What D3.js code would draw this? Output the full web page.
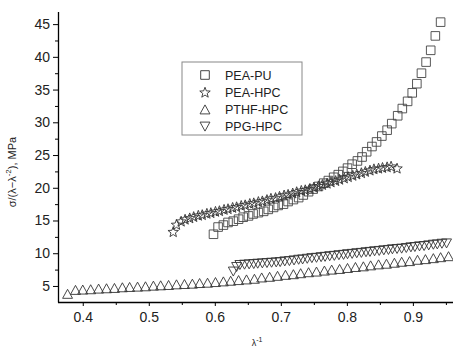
<!DOCTYPE html>
<html>
<head>
<meta charset="utf-8">
<title>chart</title>
<script src="https://cdn.jsdelivr.net/npm/d3@7"></script>
<style>
  body { margin: 0; background: #fff; }
  text { font-family: "Liberation Sans", Arial, sans-serif; }
</style>
</head>
<body>
<script>
// series data (x = lambda^-1, y = reduced stress, MPa)
var seriesNames = ["PEA-PU", "PEA-HPC", "PTHF-HPC", "PPG-HPC"];

var peaPuX = [0.598,0.605,0.613,0.620,0.628,0.636,0.643,0.651,0.658,0.666,0.674,0.681,0.689,0.696,0.704,0.711,0.719,0.727,0.734,0.742,0.749,0.757,0.765,0.772,0.780,0.787,0.794,0.801,0.808,0.816,0.823,0.830,0.838,0.845,0.853,0.861,0.868,0.877,0.884,0.892,0.899,0.906,0.913,0.920,0.927,0.934,0.942];
var peaPuY = [12.9,14.0,14.3,14.7,14.9,15.2,15.5,15.7,16.0,16.2,16.4,16.7,17.0,17.3,17.5,17.9,18.2,18.5,18.9,19.4,19.8,20.2,20.7,21.1,21.6,22.0,22.5,23.0,23.6,24.1,24.7,25.5,26.3,27.0,27.9,28.8,29.8,31.0,32.1,33.2,34.5,35.9,37.5,39.2,41.0,43.2,45.3];

var peaHpcX = [0.537,0.542,0.549,0.555,0.562,0.568,0.575,0.581,0.588,0.594,0.601,0.607,0.614,0.620,0.627,0.633,0.640,0.646,0.653,0.659,0.666,0.672,0.679,0.685,0.692,0.698,0.705,0.711,0.718,0.724,0.731,0.737,0.744,0.750,0.757,0.763,0.770,0.776,0.783,0.789,0.796,0.802,0.809,0.815,0.822,0.828,0.835,0.841,0.848,0.854,0.861,0.867,0.876];
var peaHpcY = [13.3,14.4,14.9,15.2,15.4,15.6,15.8,15.9,16.1,16.2,16.4,16.5,16.7,16.8,17.0,17.1,17.3,17.4,17.6,17.7,17.9,18.0,18.2,18.4,18.5,18.7,18.9,19.0,19.2,19.4,19.6,19.7,19.9,20.1,20.3,20.5,20.7,20.9,21.1,21.3,21.5,21.7,21.9,22.1,22.3,22.5,22.7,22.9,23.0,23.1,23.2,23.3,23.0];

var pthfX = [0.377,0.389,0.400,0.412,0.424,0.436,0.448,0.460,0.471,0.483,0.495,0.507,0.518,0.530,0.542,0.554,0.566,0.577,0.589,0.601,0.613,0.624,0.636,0.648,0.660,0.671,0.683,0.695,0.707,0.719,0.730,0.742,0.754,0.766,0.777,0.789,0.801,0.813,0.825,0.836,0.848,0.860,0.872,0.883,0.895,0.907,0.919,0.931,0.942,0.954];
var pthfY = [3.8,4.4,4.45,4.5,4.6,4.65,4.7,4.8,4.85,4.9,4.95,5.05,5.1,5.15,5.25,5.3,5.35,5.45,5.5,5.6,5.7,5.8,5.9,6.0,6.1,6.3,6.4,6.55,6.7,6.8,6.95,7.1,7.2,7.35,7.5,7.6,7.75,7.9,8.0,8.15,8.3,8.4,8.55,8.7,8.8,9.0,9.1,9.25,9.4,9.55];

var ppgX = [0.628,0.633,0.638,0.645,0.652,0.659,0.665,0.672,0.679,0.686,0.693,0.699,0.706,0.713,0.720,0.727,0.733,0.740,0.747,0.754,0.761,0.767,0.774,0.781,0.788,0.795,0.801,0.808,0.815,0.822,0.829,0.835,0.842,0.849,0.856,0.863,0.869,0.876,0.883,0.890,0.897,0.903,0.910,0.917,0.924,0.931,0.937,0.944,0.951];
var ppgY = [7.2,7.9,8.2,8.25,8.3,8.35,8.4,8.45,8.5,8.55,8.6,8.65,8.75,8.8,8.9,9.0,9.05,9.15,9.25,9.3,9.4,9.45,9.55,9.6,9.7,9.75,9.85,9.9,10.0,10.05,10.15,10.2,10.3,10.35,10.45,10.5,10.6,10.65,10.7,10.8,10.9,10.95,11.05,11.1,11.2,11.3,11.35,11.45,11.5];

var xTicks = [0.4, 0.5, 0.6, 0.7, 0.8, 0.9];
var xMinor = [0.45, 0.55, 0.65, 0.75, 0.85, 0.95];
var yTicks = [5, 10, 15, 20, 25, 30, 35, 40, 45];
var yMinor = [7.5, 12.5, 17.5, 22.5, 27.5, 32.5, 37.5, 42.5];

var w = 453, h = 349;
var padL = 58, padB = 302, padT = 12, padR = 452.5;

var svg = d3.select("body").append("svg")
    .attr("width", w)
    .attr("height", h);

var xScale = d3.scaleLinear().domain([0.3625, 0.96]).range([padL, padR]);
var yScale = d3.scaleLinear().domain([2.55, 46.85]).range([padB, padT]);

// marker shapes, centred on their bounding box
function square(s) { return "M" + (-s) + "," + (-s) + "h" + 2*s + "v" + 2*s + "h" + (-2*s) + "Z"; }
function triUp(s) { return "M0," + (-s) + "L" + (s*1.1) + "," + s + "L" + (-s*1.1) + "," + s + "Z"; }
function triDown(s) { return "M0," + s + "L" + (s*1.1) + "," + (-s) + "L" + (-s*1.1) + "," + (-s) + "Z"; }
function star(r) {
    var pts = [];
    for (var k = 0; k < 10; k++) {
        var rr = k % 2 == 0 ? r : r * 0.42;
        var a = -Math.PI / 2 + k * Math.PI / 5;
        pts.push([rr * Math.cos(a), rr * Math.sin(a) + r * 0.1]);
    }
    return "M" + pts.map(function(p) { return p[0].toFixed(2) + "," + p[1].toFixed(2); }).join("L") + "Z";
}

var series = [
    {x: peaPuX, y: peaPuY, path: square(4.3), color: "#444"},
    {x: peaHpcX, y: peaHpcY, path: star(5.5), color: "#333"},
    {x: pthfX, y: pthfY, path: triUp(4.5), color: "#333"},
    {x: ppgX, y: ppgY, path: triDown(4.5), color: "#333"}
];

// axes
var xAxis = d3.axisBottom(xScale).tickValues(xTicks).tickFormat(d3.format(".1f")).tickSize(4).tickPadding(6);
var xAxisMinor = d3.axisBottom(xScale).tickValues(xMinor).tickFormat("").tickSize(3);
var yAxis = d3.axisLeft(yScale).tickValues(yTicks).tickFormat(d3.format("d")).tickSize(5).tickPadding(3);
var yAxisMinor = d3.axisLeft(yScale).tickValues(yMinor).tickFormat("").tickSize(3);

var gx = svg.append("g").attr("transform", "translate(0," + padB + ")").call(xAxis);
svg.append("g").attr("transform", "translate(0," + padB + ")").call(xAxisMinor).select(".domain").remove();
var gy = svg.append("g").attr("transform", "translate(" + padL + ",0)").call(yAxis);
svg.append("g").attr("transform", "translate(" + padL + ",0)").call(yAxisMinor).select(".domain").remove();

gx.select(".domain").attr("d", "M" + padL + ",0.5H" + w).attr("stroke", "#000").attr("stroke-width", 1.3);
gy.select(".domain").attr("d", "M0.5," + padT + "V" + (padB + 0.5)).attr("stroke", "#000").attr("stroke-width", 1.3);
svg.selectAll(".tick line").attr("stroke", "#000");
svg.selectAll(".tick text")
    .attr("font-family", "Liberation Sans, Arial, sans-serif")
    .attr("font-size", "14px")
    .attr("fill", "#222");

// data markers
series.forEach(function(s) {
    svg.append("g").selectAll("path")
        .data(s.x.map(function(v, i) { return [v, s.y[i]]; }))
        .enter().append("path")
        .attr("d", s.path)
        .attr("transform", function(d) { return "translate(" + xScale(d[0]) + "," + yScale(d[1]) + ")"; })
        .attr("fill", "none")
        .attr("stroke", s.color)
        .attr("stroke-width", 0.9);
});

// legend
var lg = svg.append("g").attr("transform", "translate(182,62)");
lg.append("rect")
    .attr("x", 0).attr("y", 0)
    .attr("width", 120).attr("height", 73)
    .attr("fill", "#fff")
    .attr("stroke", "#888")
    .attr("stroke-width", 1);
seriesNames.forEach(function(name, i) {
    var yy = 13 + i * 17.2;
    lg.append("path")
        .attr("d", series[i].path)
        .attr("transform", "translate(23," + yy + ")")
        .attr("fill", "none")
        .attr("stroke", "#333")
        .attr("stroke-width", 0.9);
    lg.append("text")
        .text(name)
        .attr("x", 43)
        .attr("y", yy + 4.5)
        .attr("font-size", "12.5px")
        .attr("fill", "#222");
});

// axis titles
var yt = svg.append("text")
    .attr("transform", "translate(16,172) rotate(-90)")
    .attr("text-anchor", "middle")
    .attr("font-size", "11px")
    .attr("fill", "#222");
yt.append("tspan").text("σ/(λ−λ");
yt.append("tspan").text("-2").attr("font-size", "8px").attr("dy", -5);
yt.append("tspan").text("), MPa").attr("dy", 5);

var xt = svg.append("text")
    .attr("x", 257)
    .attr("y", 346)
    .attr("text-anchor", "middle")
    .attr("font-size", "9px")
    .attr("fill", "#222");
xt.append("tspan").text("λ");
xt.append("tspan").text("-1").attr("font-size", "7px").attr("dy", -4);
</script>
</body>
</html>
